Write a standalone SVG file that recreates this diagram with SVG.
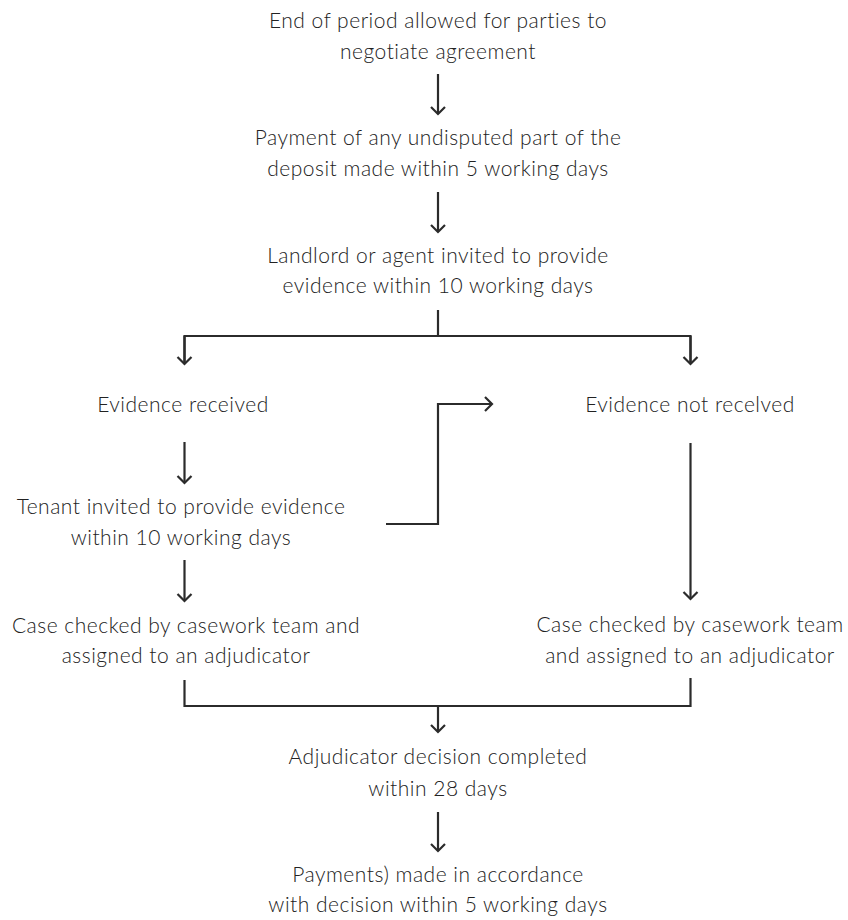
<svg xmlns="http://www.w3.org/2000/svg" width="848" height="920" viewBox="0 0 848 920">
<defs>
<style>
text{font-family:Lato,"Open Sans","Liberation Sans",sans-serif;font-weight:300;font-size:21px;letter-spacing:0.5px;fill:#222222;text-anchor:middle}
.c{fill:none;stroke:#2b2b2b;stroke-width:2.2;stroke-linecap:butt;stroke-linejoin:miter}
</style>
<marker id="ah" viewBox="-10 -10 20 20" markerWidth="20" markerHeight="20" markerUnits="userSpaceOnUse" refX="0" refY="0" orient="auto">
<path d="M-7,-7 L0,0 L-7,7" fill="none" stroke="#2b2b2b" stroke-width="2.2"/>
</marker>
</defs>
<rect width="848" height="920" fill="#ffffff"/>
<g id="n1"><text x="438" y="28">End of period allowed for parties to</text><text x="438" y="59">negotiate agreement</text></g>
<g id="n2"><text x="438" y="145">Payment of any undisputed part of the</text><text x="438" y="176">deposit made within 5 working days</text></g>
<g id="n3"><text x="438" y="263">Landlord or agent invited to provide</text><text x="438" y="293">evidence within 10 working days</text></g>
<g id="n4"><text x="183" y="412">Evidence received</text></g>
<g id="n5"><text x="690" y="412">Evidence not recelved</text></g>
<g id="n6"><text x="181" y="514">Tenant invited to provide evidence</text><text x="181" y="545">within 10 working days</text></g>
<g id="n7"><text x="186" y="633">Case checked by casework team and</text><text x="186" y="663">assigned to an adjudicator</text></g>
<g id="n8"><text x="690" y="632">Case checked by casework team</text><text x="690" y="663">and assigned to an adjudicator</text></g>
<g id="n9"><text x="438" y="764">Adjudicator decision completed</text><text x="438" y="796">within 28 days</text></g>
<g id="n10"><text x="438" y="882">Payments) made in accordance</text><text x="438" y="912">with decision within 5 working days</text></g>
<g id="connectors">
<path class="c" d="M438,74 V114" marker-end="url(#ah)"/>
<path class="c" d="M438,192 V232" marker-end="url(#ah)"/>
<path class="c" d="M438,310 V336"/>
<path class="c" d="M184.5,364 V336 H690.5 V364"/>
<path class="c" d="M184.5,336 V364" marker-end="url(#ah)"/>
<path class="c" d="M690.5,336 V364" marker-end="url(#ah)"/>
<path class="c" d="M184.5,442 V483" marker-end="url(#ah)"/>
<path class="c" d="M386,524 H438 V404 H492" marker-end="url(#ah)"/>
<path class="c" d="M184.5,560 V601" marker-end="url(#ah)"/>
<path class="c" d="M690.5,443 V599" marker-end="url(#ah)"/>
<path class="c" d="M184.5,680 V706 H690.5 V678"/>
<path class="c" d="M438,706 V732" marker-end="url(#ah)"/>
<path class="c" d="M438,812 V851" marker-end="url(#ah)"/>
</g>
</svg>
